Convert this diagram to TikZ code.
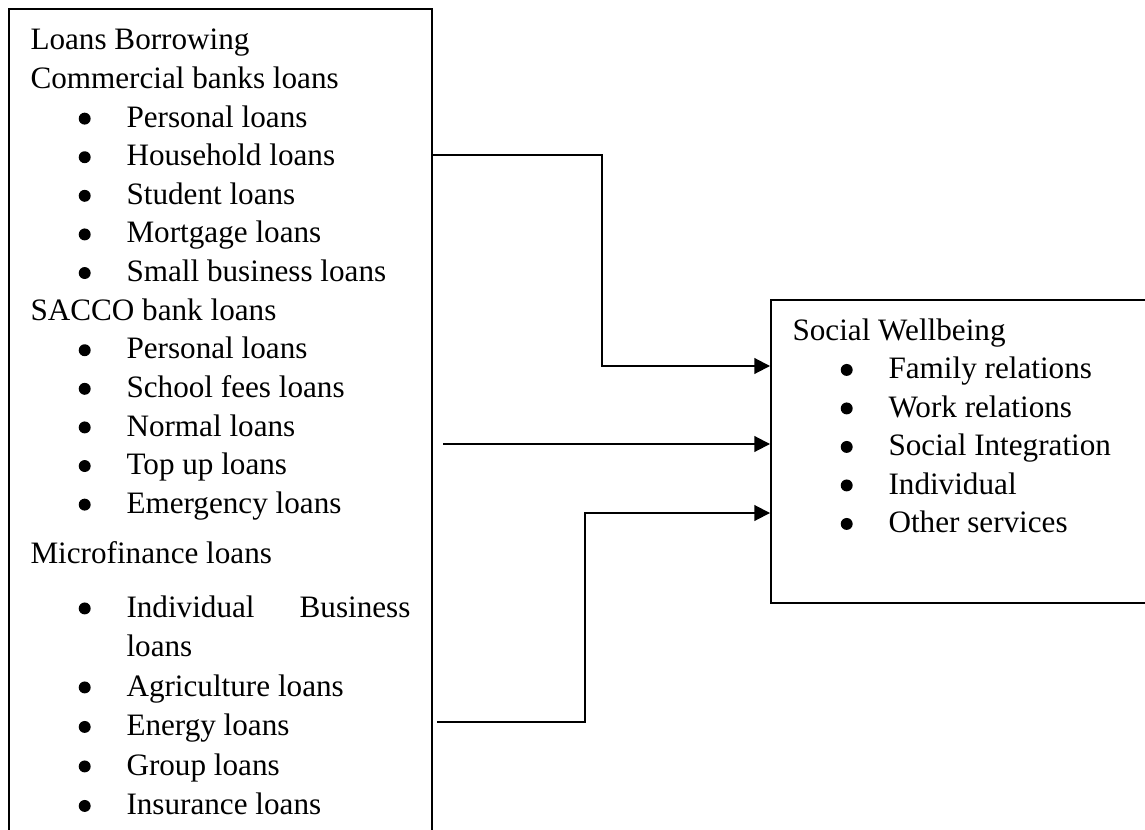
\documentclass[tikz,border=0pt]{standalone}
\usepackage{fontspec}
\setmainfont{Liberation Serif}
\usetikzlibrary{fit, arrows.meta}

\begin{document}
\begin{tikzpicture}[x=0.385pt, y=-0.385pt]
\tikzset{
    box/.style={draw, line width=0.75pt, inner sep=0pt},
    txt/.style={anchor=base west, inner sep=0pt, font=\fontsize{12pt}{14pt}\selectfont},
    dot/.style={circle, fill, inner sep=0pt, minimum size=4.6pt, xshift=-13.4pt},
    item/.style={txt, text height=8pt, text depth=1.4pt, label={[dot]left:{}}},
    edge/.style={-{Triangle[length=6pt, width=6pt]}, line width=0.75pt}
}

% Поле малюнка (рамки виходять за край)
\path[use as bounding box] (0,0) rectangle (1145,830);
\fill[white] (0,0) rectangle (1145,830);
\clip (0,0) rectangle (1145,830);

% Рамки
\node[box, fit={(9,9) (432,900)}] (loans) {};
\node[box, fit={(771,300) (1200,603)}] (wellbeing) {};

% Лівий блок
\node[txt] (lb) at (30,50) {Loans Borrowing};
\node[txt] (cb) at (30,88.6) {Commercial banks loans};
\node[item] (cb1) at (126,127.2) {Personal loans};
\node[item] (cb2) at (126,165.8) {Household loans};
\node[item] (cb3) at (126,204.4) {Student loans};
\node[item] (cb4) at (126,243) {Mortgage loans};
\node[item] (cb5) at (126,281.6) {Small business loans};
\node[txt] (sc) at (30,320.2) {SACCO bank loans};
\node[item] (sc1) at (126,358.8) {Personal loans};
\node[item] (sc2) at (126,397.4) {School fees loans};
\node[item] (sc3) at (126,436) {Normal loans};
\node[item] (sc4) at (126,474.6) {Top up loans};
\node[item] (sc5) at (126,513.2) {Emergency loans};
\node[txt] (mf) at (30,563) {Microfinance loans};
\node[item] (mf1) at (126,617) {Individual};
\node[txt, anchor=base east] (mf1b) at (411,617) {Business};
\node[txt] (mf1c) at (126,656.5) {loans};
\node[item] (mf2) at (126,696) {Agriculture loans};
\node[item] (mf3) at (126,735.5) {Energy loans};
\node[item] (mf4) at (126,775) {Group loans};
\node[item] (mf5) at (126,814.5) {Insurance loans};

% Правий блок
\node[txt] (sw) at (792,340) {Social Wellbeing};
\node[item] (sw1) at (888,378.5) {Family relations};
\node[item] (sw2) at (888,417) {Work relations};
\node[item] (sw3) at (888,455.5) {Social Integration};
\node[item] (sw4) at (888,494) {Individual};
\node[item] (sw5) at (888,532.5) {Other services};

% Точки зламу стрілок
\coordinate (j1) at (602,155);
\coordinate (j2) at (602,366);
\coordinate (j3) at (443,444);
\coordinate (j4) at (437,722);
\coordinate (j5) at (585,513);

% Стрілки
\draw[edge] (loans.east |- j1) -- (j1) -- (j2) -- (wellbeing.west |- j2);
\draw[edge] (j3) -- (wellbeing.west |- j3);
\draw[edge] (j4) -| (j5) -- (wellbeing.west |- j5);
\end{tikzpicture}
\end{document}
